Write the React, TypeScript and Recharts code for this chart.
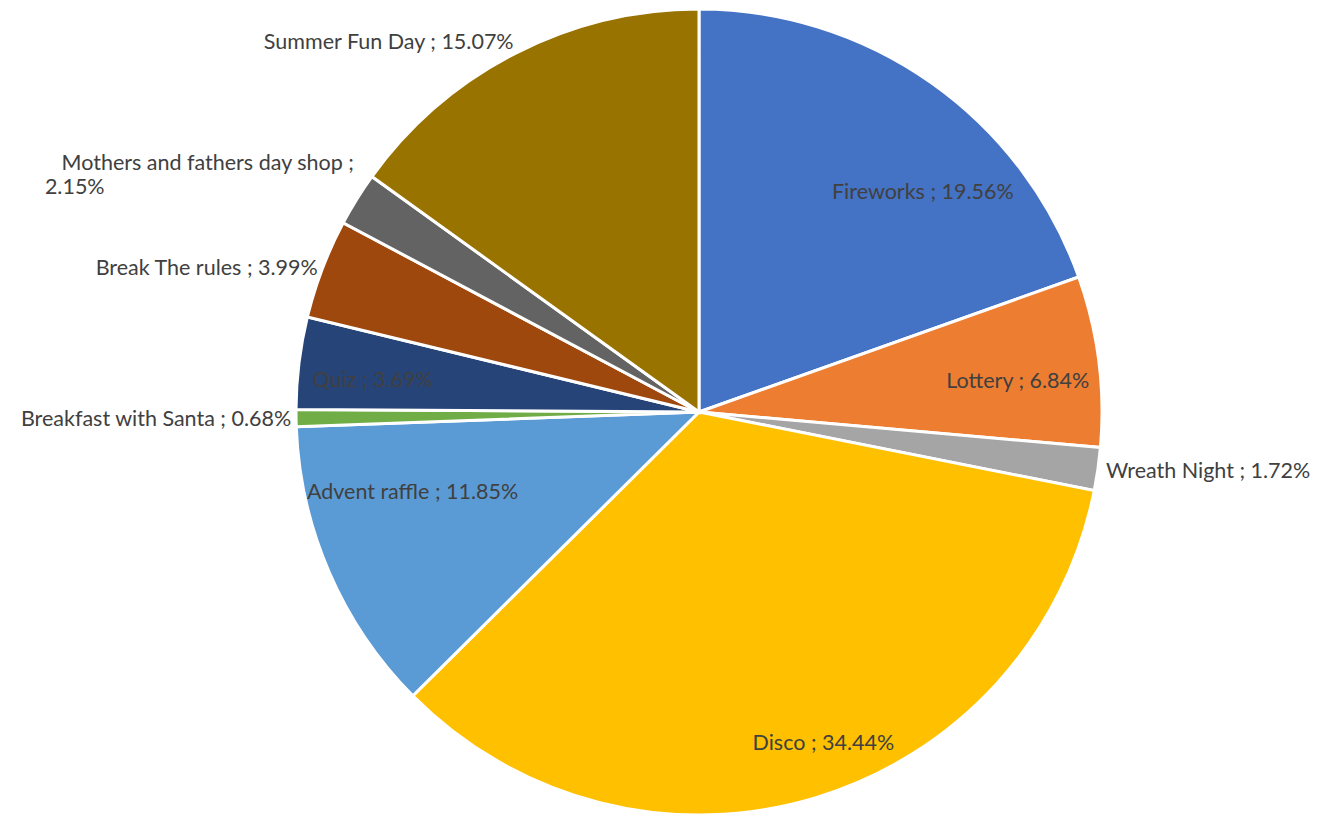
import React from "react";
import { PieChart, Pie, Cell } from "recharts";

const categories = [
  "Fireworks",
  "Lottery",
  "Wreath Night",
  "Disco",
  "Advent raffle",
  "Breakfast with Santa",
  "Quiz",
  "Break The rules",
  "Mothers and fathers day shop",
  "Summer Fun Day",
];
const shares = [19.56, 6.84, 1.72, 34.44, 11.85, 0.68, 3.69, 3.99, 2.15, 15.07];
const colors = [
  "#4472C4",
  "#ED7D31",
  "#A5A5A5",
  "#FFC000",
  "#5B9BD5",
  "#70AD47",
  "#264478",
  "#9E480E",
  "#636363",
  "#997300",
];

const data = categories.map((name, i) => ({ name, value: shares[i] }));

// label placement: radius factor, angle nudge (deg, clockwise), text anchor
const labelLayout: Record<string, { rf: number; da: number; anchor: "middle" | "start" | "end"; wrap?: boolean }> = {
  Fireworks: { rf: 0.78, da: 10.2, anchor: "middle" },
  Lottery: { rf: 0.795, da: 1.6, anchor: "middle" },
  "Wreath Night": { rf: 1.02, da: 0, anchor: "start" },
  Disco: { rf: 0.875, da: -3.9, anchor: "middle" },
  "Advent raffle": { rf: 0.737, da: 8.1, anchor: "middle" },
  "Breakfast with Santa": { rf: 1.012, da: 0, anchor: "end" },
  Quiz: { rf: 0.814, da: -1.3, anchor: "middle" },
  "Break The rules": { rf: 1.012, da: 0, anchor: "end" },
  "Mothers and fathers day shop": { rf: 1.04, da: 2.7, anchor: "end", wrap: true },
  "Summer Fun Day": { rf: 1.03, da: 0.6, anchor: "end" },
};

const FONT = "Lato, 'Open Sans', sans-serif";
const FS = 21.5;

const renderLabel = (props: any) => {
  const { cx, cy, midAngle, outerRadius, name, value } = props;
  const lay = labelLayout[name] || { rf: 0.7, da: 0, anchor: "middle" };
  const theta = ((90 - midAngle + lay.da) * Math.PI) / 180;
  const r = outerRadius * lay.rf;
  const x = cx + r * Math.sin(theta);
  const y = cy - r * Math.cos(theta);
  const txt = `${value.toFixed(2)}%`;
  if (lay.wrap) {
    return (
      <text x={x} y={y} fill="#404040" fontSize={FS} fontFamily={FONT} textAnchor="end">
        <tspan x={x} dy={-4}>{`${name} ;`}</tspan>
        <tspan x={x - 309} dy={24} textAnchor="start">{txt}</tspan>
      </text>
    );
  }
  return (
    <text
      x={x}
      y={y}
      fill="#404040"
      fontSize={FS}
      fontFamily={FONT}
      textAnchor={lay.anchor}
      dominantBaseline="central"
    >
      {`${name} ; ${txt}`}
    </text>
  );
};

export default function App() {
  return (
    <div style={{ position: "fixed", left: 0, top: 0, width: 1327, height: 815, background: "#fff" }}>
      <PieChart width={1327} height={815} margin={{ top: 0, right: 0, bottom: 0, left: 0 }}>
        <Pie
          data={data}
          dataKey="value"
          nameKey="name"
          cx={699}
          cy={412}
          outerRadius={403}
          startAngle={90}
          endAngle={-270}
          stroke="#ffffff"
          strokeWidth={3}
          label={renderLabel}
          labelLine={false}
          isAnimationActive={false}
        >
          {data.map((d, i) => (
            <Cell key={d.name} fill={colors[i]} />
          ))}
        </Pie>
      </PieChart>
    </div>
  );
}
